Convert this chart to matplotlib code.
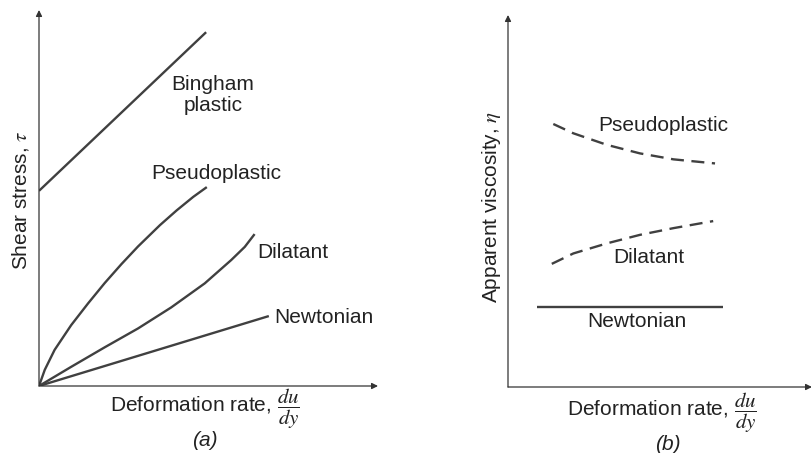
import matplotlib
matplotlib.use("Agg")
import matplotlib.pyplot as plt

plt.rcParams['font.family'] = ['Liberation Sans', 'DejaVu Sans']
plt.rcParams['mathtext.fontset'] = 'stix'

# panel (a): shear stress vs deformation rate
bingham_x = [0.0, 4.93]
bingham_y = [5.19, 9.41]
pseudo_x = [0.0, 0.17, 0.46, 0.95, 1.45, 1.94, 2.43, 2.92, 3.57, 4.06, 4.55, 4.95]
pseudo_y = [0.0, 0.43, 0.96, 1.62, 2.20, 2.74, 3.24, 3.71, 4.28, 4.67, 5.03, 5.29]
dilat_x = [0.0, 0.95, 1.94, 2.92, 3.90, 4.89, 5.67, 6.07, 6.36]
dilat_y = [0.0, 0.51, 1.03, 1.53, 2.09, 2.73, 3.35, 3.70, 4.04]
newt_x = [0.0, 6.78]
newt_y = [0.0, 1.86]

# panel (b): apparent viscosity vs deformation rate
pseudo_b_x = [1.49, 2.15, 3.25, 4.34, 5.44, 6.81]
pseudo_b_y = [7.07, 6.82, 6.51, 6.28, 6.12, 6.01]
dilat_b_x = [1.44, 2.15, 3.25, 4.34, 5.44, 6.75]
dilat_b_y = [3.31, 3.59, 3.86, 4.09, 4.27, 4.46]
newt_b_x = [0.95, 7.07]
newt_b_y = [2.15, 2.15]

line_col = '#404040'
text_col = '#222222'
fs = 15

fig = plt.figure(figsize=(8.12, 4.53), dpi=100)

W, H = 812.0, 453.0
ax1 = fig.add_axes([39 / W, (H - 386) / H, (378 - 39) / W, (386 - 10) / H])
ax2 = fig.add_axes([508 / W, (H - 387) / H, (812 - 508) / W, (387 - 15) / H])

for ax in (ax1, ax2):
    ax.set_xlim(0, 10)
    ax.set_ylim(0, 10)
    ax.set_xticks([])
    ax.set_yticks([])
    for s in ax.spines.values():
        s.set_visible(False)
    # axes drawn as arrows
    ax.annotate('', xy=(0, 1), xytext=(0, 0), xycoords='axes fraction',
                arrowprops=dict(arrowstyle='-|>', color='#333333', lw=0.9,
                                mutation_scale=9, shrinkA=0, shrinkB=0))
    ax.annotate('', xy=(1, 0), xytext=(0, 0), xycoords='axes fraction',
                arrowprops=dict(arrowstyle='-|>', color='#333333', lw=0.9,
                                mutation_scale=9, shrinkA=0, shrinkB=0))

lw = 1.7
ax1.plot(bingham_x, bingham_y, color=line_col, lw=lw, solid_capstyle='butt')
ax1.plot(pseudo_x, pseudo_y, color=line_col, lw=lw, solid_capstyle='butt')
ax1.plot(dilat_x, dilat_y, color=line_col, lw=lw, solid_capstyle='butt')
ax1.plot(newt_x, newt_y, color=line_col, lw=lw, solid_capstyle='butt')

ax1.text(5.13, 7.74, 'Bingham\nplastic', ha='center', va='center', fontsize=fs,
         color=text_col, linespacing=1.15)
ax1.text(5.22, 5.64, 'Pseudoplastic', ha='center', va='center', fontsize=fs, color=text_col)
ax1.text(7.49, 3.56, 'Dilatant', ha='center', va='center', fontsize=fs, color=text_col)
ax1.text(8.41, 1.81, 'Newtonian', ha='center', va='center', fontsize=fs, color=text_col)
ax1.text(4.90, -0.60, r'Deformation rate, $\dfrac{du}{dy}$', ha='center', va='center',
         fontsize=fs, color=text_col)
ax1.text(4.90, -1.46, '(a)', ha='center', va='center', style='italic',
         fontsize=fs, color=text_col)
ax1.text(-0.56, 4.95, r'Shear stress, $\tau$', ha='center', va='center', rotation=90,
         fontsize=fs, color=text_col)

ax2.plot(pseudo_b_x, pseudo_b_y, color=line_col, lw=lw, dashes=(5.5, 3.2))
ax2.plot(dilat_b_x, dilat_b_y, color=line_col, lw=lw, dashes=(5.5, 3.2))
ax2.plot(newt_b_x, newt_b_y, color=line_col, lw=lw, solid_capstyle='butt')

ax2.text(5.10, 7.04, 'Pseudoplastic', ha='center', va='center', fontsize=fs, color=text_col)
ax2.text(4.64, 3.49, 'Dilatant', ha='center', va='center', fontsize=fs, color=text_col)
ax2.text(4.24, 1.75, 'Newtonian', ha='center', va='center', fontsize=fs, color=text_col)
ax2.text(5.07, -0.70, r'Deformation rate, $\dfrac{du}{dy}$', ha='center', va='center',
         fontsize=fs, color=text_col)
ax2.text(5.26, -1.55, '(b)', ha='center', va='center', style='italic',
         fontsize=fs, color=text_col)
ax2.text(-0.53, 4.84, r'Apparent viscosity, $\eta$', ha='center', va='center', rotation=90,
         fontsize=fs, color=text_col)

plt.savefig('out.png', dpi=100)
